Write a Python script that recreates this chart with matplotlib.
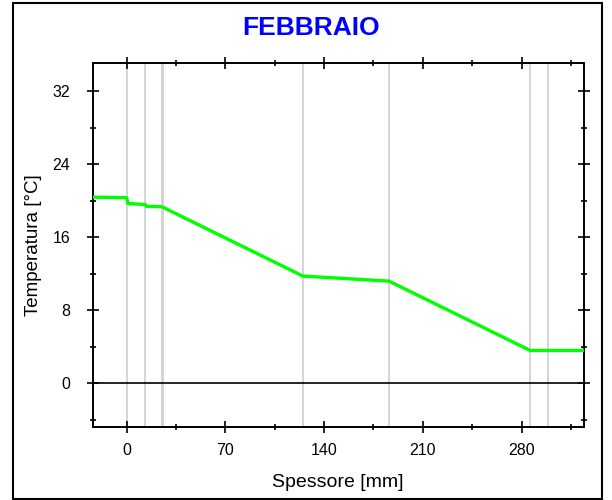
import matplotlib.pyplot as plt
from matplotlib.patches import Rectangle
from matplotlib.ticker import MultipleLocator

# profilo di temperatura (spessore mm, temperatura C)
spessore = [-24, 0, 1, 13, 14, 25, 125, 186, 286, 324]
temperatura = [20.4, 20.35, 19.7, 19.6, 19.4, 19.35, 11.75, 11.2, 3.6, 3.6]
interfacce = [0, 13, 25, 26, 125, 186, 286, 299]

plt.rcParams['font.family'] = ['Liberation Sans', 'DejaVu Sans']

fig = plt.figure(figsize=(6.12, 5), dpi=100)
ax = fig.add_axes([0.1515, 0.1454, 0.8023, 0.728])

for xi in interfacce:
    ax.axvline(xi, color='#d4d4d4', lw=1.4, zorder=1)
ax.axhline(0, color='black', lw=1.2, zorder=2)
ax.plot(spessore, temperatura, color='#00ff00', lw=2.4, zorder=3)

ax.set_xlim(-24, 324)
ax.set_ylim(-4.82, 35.07)
ax.xaxis.set_major_locator(MultipleLocator(70))
ax.xaxis.set_minor_locator(MultipleLocator(35))
ax.yaxis.set_major_locator(MultipleLocator(8))
ax.yaxis.set_minor_locator(MultipleLocator(4))
ax.tick_params(which='both', direction='inout', top=True, right=True,
               labeltop=False, labelright=False, labelsize=11.5, width=1.2)
ax.tick_params(axis='x', pad=7)
ax.tick_params(axis='y', pad=12)
ax.tick_params(which='major', length=8)
ax.tick_params(which='minor', length=5)
for s in ax.spines.values():
    s.set_linewidth(1.4)

ax.set_xlabel('Spessore [mm]', fontsize=14, labelpad=12)
ax.set_ylabel('Temperatura [°C]', fontsize=13.5, labelpad=8)
fig.text(0.509, 0.944, 'FEBBRAIO', color='#0000ff', fontsize=19,
         fontweight='bold', ha='center', va='center')

fig.patches.append(Rectangle((13 / 612, 0.003), 589 / 612, 0.991, transform=fig.transFigure,
                             fill=False, edgecolor='black', lw=1.5))

fig.savefig('out.png', dpi=100)
